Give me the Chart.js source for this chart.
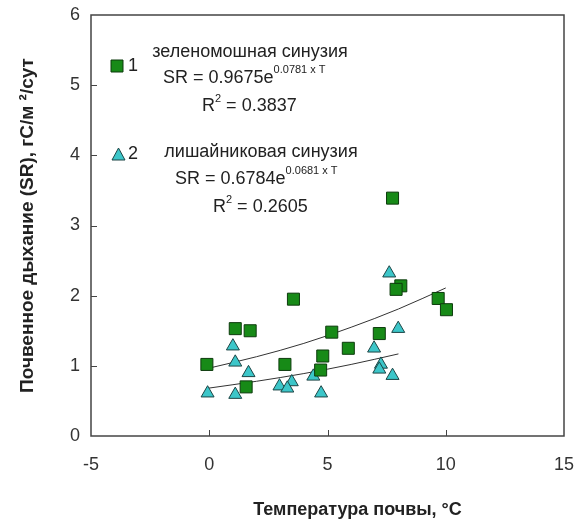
<!DOCTYPE html>
<html>
<head>
<meta charset="utf-8">
<script src="https://cdn.jsdelivr.net/npm/chart.js@4/dist/chart.umd.min.js"></script>
<style>
html,body{margin:0;padding:0;background:#fff;}
#wrap{width:574px;height:522px;}
</style>
</head>
<body>
<div id="wrap"><canvas id="c" width="574" height="522"></canvas></div>
<script>
// Series 1: зеленомошная синузия (green squares)
const mossT  = [-0.1, 1.1, 1.73, 3.56, 3.2, 1.56, 5.18, 4.8, 4.71, 5.88, 7.19, 7.75, 8.1, 7.9, 9.68, 10.03];
const mossSR = [1.02, 1.53, 1.50, 1.95, 1.02, 0.70, 1.48, 1.14, 0.94, 1.25, 1.46, 3.39, 2.14, 2.09, 1.96, 1.80];
// Series 2: лишайниковая синузия (cyan triangles)
const lichT  = [-0.07, 1.0, 1.1, 1.1, 1.66, 2.97, 3.49, 3.3, 4.4, 4.73, 6.97, 7.26, 7.19, 7.75, 7.61, 7.99];
const lichSR = [0.61, 1.28, 1.05, 0.59, 0.90, 0.71, 0.77, 0.68, 0.85, 0.61, 1.25, 1.02, 0.95, 0.86, 2.32, 1.53];
// Trend curves
const trend1T  = [-0.1, 2, 4, 6, 8, 10];
const trend1SR = [0.96, 1.13, 1.32, 1.55, 1.81, 2.11];
const trend2T  = [-0.07, 2, 4, 6, 8];
const trend2SR = [0.68, 0.78, 0.89, 1.02, 1.17];
// Axis ticks
const xTickVals = [-5, 0, 5, 10, 15];
const yTickVals = [0, 1, 2, 3, 4, 5, 6];

const toXY = (xs, ys) => xs.map((x, i) => ({x: x, y: ys[i]}));

const FONT = "'Liberation Sans', Arial, sans-serif";
const TXT = '#222';

const framePlugin = {
  id: 'frame',
  beforeDatasetsDraw(chart) {
    const {ctx, chartArea: a, scales} = chart;
    ctx.save();
    ctx.strokeStyle = '#444';
    ctx.lineWidth = 1.5;
    ctx.strokeRect(a.left, a.top, a.right - a.left, a.bottom - a.top);
    ctx.lineWidth = 1;
    ctx.beginPath();
    xTickVals.slice(1, -1).forEach(v => {
      const px = Math.round(scales.x.getPixelForValue(v)) + 0.5;
      ctx.moveTo(px, a.bottom); ctx.lineTo(px, a.bottom - 6);
    });
    yTickVals.slice(1, -1).forEach(v => {
      const py = Math.round(scales.y.getPixelForValue(v)) + 0.5;
      ctx.moveTo(a.left, py); ctx.lineTo(a.left + 6, py);
    });
    ctx.stroke();
    ctx.restore();
  },
  afterDraw(chart) {
    const {ctx} = chart;
    ctx.save();
    ctx.fillStyle = TXT;
    ctx.textBaseline = 'middle';
    const big = '18px ' + FONT, small = '11px ' + FONT;
    function t(s, x, y, f, align) {
      ctx.font = f; ctx.textAlign = align || 'left'; ctx.fillText(s, x, y);
      return x + ctx.measureText(s).width;
    }
    // legend markers
    ctx.lineWidth = 1;
    ctx.fillStyle = '#178a17'; ctx.strokeStyle = '#0d3b0d';
    ctx.beginPath(); ctx.rect(111, 60, 12, 12); ctx.fill(); ctx.stroke();
    ctx.fillStyle = '#3cc6c9'; ctx.strokeStyle = '#1c4545';
    ctx.beginPath(); ctx.moveTo(118.5, 148); ctx.lineTo(125, 160); ctx.lineTo(112, 160); ctx.closePath(); ctx.fill(); ctx.stroke();
    ctx.fillStyle = TXT;
    t('1', 133, 66, big, 'center');
    t('2', 133, 154, big, 'center');
    // series 1 text
    t('зеленомошная синузия', 250, 52, big, 'center');
    let x = t('SR = 0.9675e', 163, 78, big);
    t('0.0781 x T', x, 70, small);
    x = t('R', 202, 106, big);
    x = t('2', x, 99, small);
    t(' = 0.3837', x, 106, big);
    // series 2 text
    t('лишайниковая синузия', 261, 152, big, 'center');
    x = t('SR = 0.6784e', 175, 179, big);
    t('0.0681 x T', x, 171, small);
    x = t('R', 213, 207, big);
    x = t('2', x, 200, small);
    t(' = 0.2605', x, 207, big);
    ctx.restore();
  }
};

const zeroPad = s => { s.paddingLeft = 0; s.paddingRight = 0; s.paddingTop = 0; s.paddingBottom = 0; };

new Chart(document.getElementById('c'), {
  type: 'scatter',
  data: {
    datasets: [
      {
        label: '1', data: toXY(mossT, mossSR), order: 1,
        pointStyle: 'rect', pointRadius: 8.5, pointHoverRadius: 8.5,
        backgroundColor: '#178a17', borderColor: '#0d3b0d', borderWidth: 1
      },
      {
        label: '2', data: toXY(lichT, lichSR), order: 2,
        pointStyle: 'triangle', pointRadius: 7.5, pointHoverRadius: 7.5,
        backgroundColor: '#3cc6c9', borderColor: '#1c4545', borderWidth: 1
      },
      {
        type: 'line', label: 'fit1', data: toXY(trend1T, trend1SR), order: 3,
        showLine: true, pointRadius: 0, borderColor: '#333', borderWidth: 1,
        cubicInterpolationMode: 'monotone', fill: false
      },
      {
        type: 'line', label: 'fit2', data: toXY(trend2T, trend2SR), order: 4,
        showLine: true, pointRadius: 0, borderColor: '#333', borderWidth: 1,
        cubicInterpolationMode: 'monotone', fill: false
      }
    ]
  },
  options: {
    responsive: false,
    animation: false,
    devicePixelRatio: 1,
    layout: {padding: {top: 15, right: 10, left: 0, bottom: 0}, autoPadding: false},
    plugins: {legend: {display: false}, tooltip: {enabled: false}},
    scales: {
      x: {
        type: 'linear', min: -5, max: 15,
        afterBuildTicks: s => { s.ticks = xTickVals.map(v => ({value: v})); },
        afterFit: s => { s.height = 86; zeroPad(s); },
        ticks: {font: {family: FONT, size: 18}, color: '#333', padding: 18, maxRotation: 0},
        grid: {drawOnChartArea: false, drawTicks: false},
        border: {display: false},
        title: {
          display: true, text: '            Температура почвы, °C',
          font: {family: FONT, size: 18, weight: 'bold'}, color: TXT,
          padding: {top: 0, bottom: 1}
        }
      },
      y: {
        type: 'linear', min: 0, max: 6,
        afterBuildTicks: s => { s.ticks = yTickVals.map(v => ({value: v})); },
        afterFit: s => { s.width = 91; zeroPad(s); },
        ticks: {font: {family: FONT, size: 18}, color: '#333', padding: 11},
        grid: {drawOnChartArea: false, drawTicks: false},
        border: {display: false},
        title: {
          display: true, text: 'Почвенное дыхание (SR), гС/м ²/сут',
          font: {family: FONT, size: 19, weight: 'bold'}, color: TXT,
          padding: {top: 16, bottom: 0}
        }
      }
    }
  },
  plugins: [framePlugin]
});
</script>
</body>
</html>
